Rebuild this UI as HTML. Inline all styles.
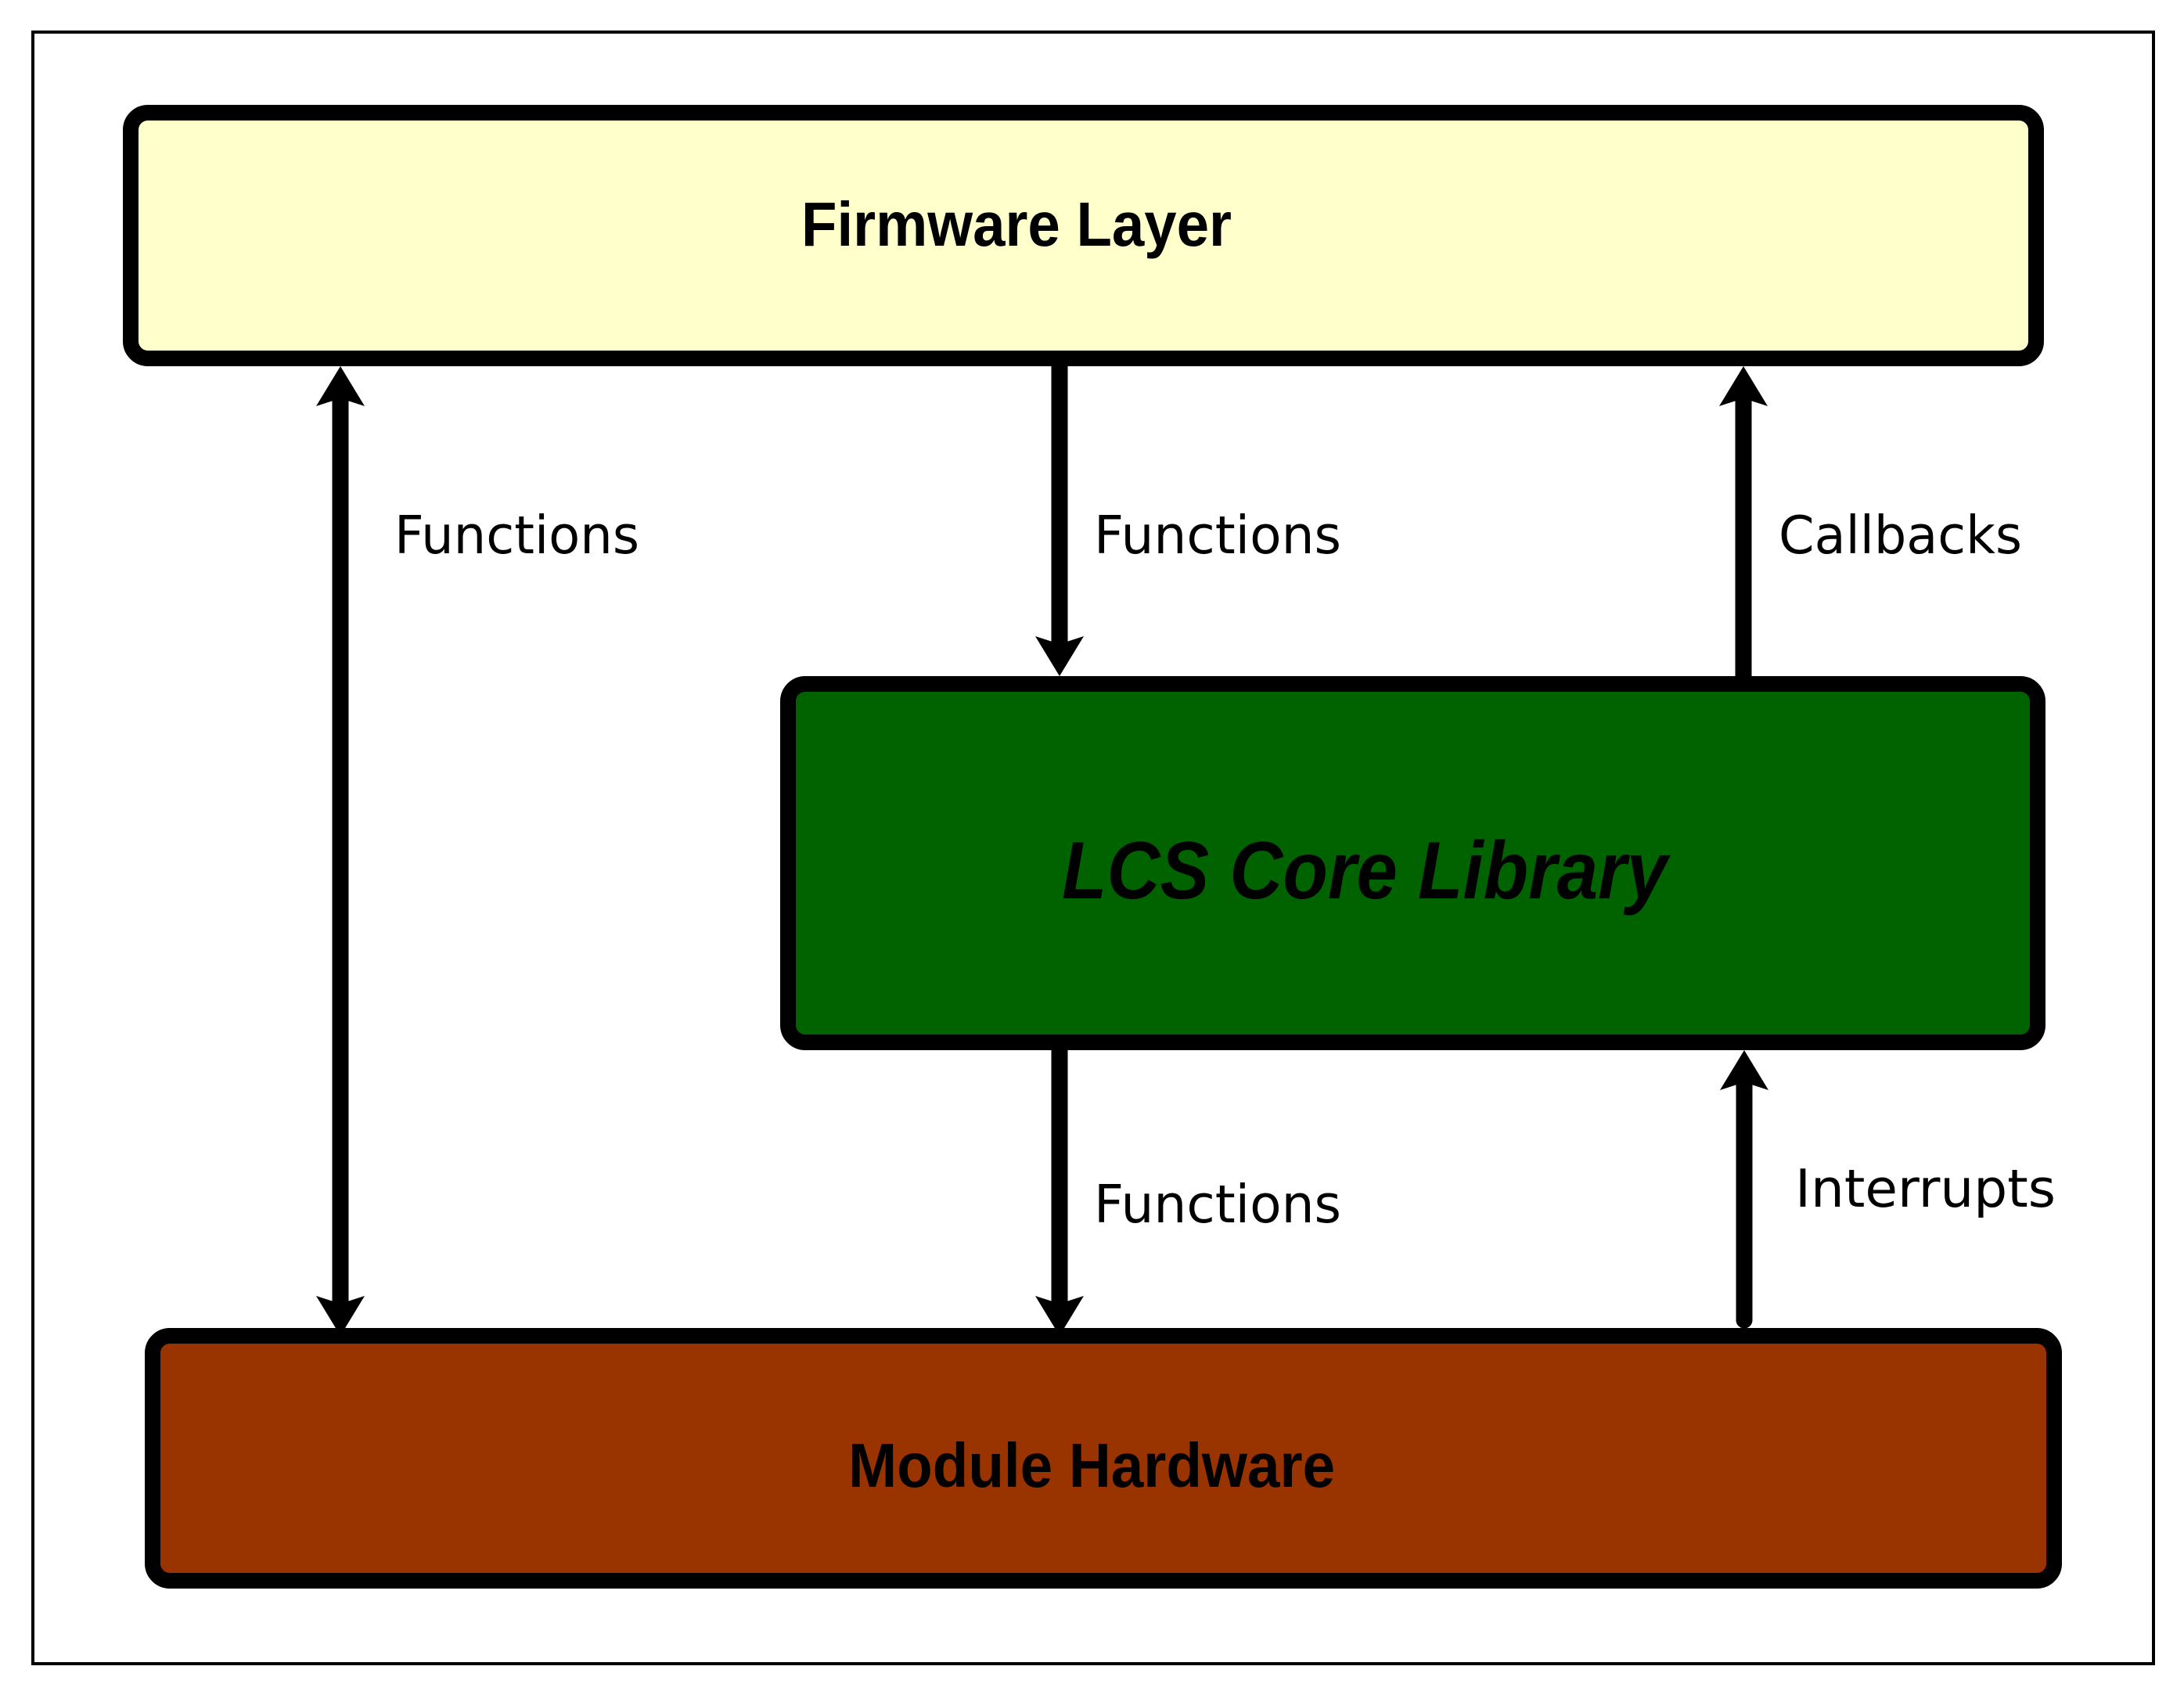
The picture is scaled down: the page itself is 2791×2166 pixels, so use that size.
<!DOCTYPE html>
<html><head><meta charset="utf-8"><style>
html,body{margin:0;padding:0;background:#fff;}
svg{display:block;}
</style></head><body>
<svg width="2791" height="2166" viewBox="0 0 2791 2166" xmlns="http://www.w3.org/2000/svg">
<rect x="0" y="0" width="2791" height="2166" fill="#fff"/>
<rect x="42" y="41" width="2710" height="2085" fill="none" stroke="#000" stroke-width="4"/>

<rect x="167" y="144" width="2435" height="314" rx="22" fill="#ffffcc" stroke="#000" stroke-width="20"/>
<rect x="1007" y="874" width="1597" height="458" rx="22" fill="#006300" stroke="#000" stroke-width="20"/>
<rect x="195" y="1707" width="2430" height="313" rx="22" fill="#993300" stroke="#000" stroke-width="20"/>

<g font-family="'Liberation Sans', sans-serif" font-weight="bold" fill="#000">
<text x="1024" y="314" font-size="80" textLength="550" lengthAdjust="spacingAndGlyphs">Firmware Layer</text>
<text x="1357" y="1148" font-size="104" font-style="italic" textLength="774" lengthAdjust="spacingAndGlyphs">LCS Core Library</text>
<text x="1084" y="1900" font-size="80" textLength="622" lengthAdjust="spacingAndGlyphs">Module Hardware</text>
</g>

<g stroke="#000" stroke-width="21">
<line x1="435" y1="505" x2="435" y2="1670"/>
<line x1="1354" y1="468" x2="1354" y2="826"/>
<line x1="2228" y1="505" x2="2228" y2="864"/>
<line x1="1354" y1="1342" x2="1354" y2="1670"/>
</g>
<line x1="2229" y1="1380" x2="2229" y2="1687" stroke="#000" stroke-width="21" stroke-linecap="round"/>
<g fill="#000">
<polygon points="435,468 404,519 435,509 466,519"/>
<polygon points="435,1707 404,1656 435,1666 466,1656"/>
<polygon points="1354,864 1323,813 1354,823 1385,813"/>
<polygon points="1354,1707 1323,1656 1354,1666 1385,1656"/>
<polygon points="2228,468 2197,519 2228,509 2259,519"/>
<polygon points="2229,1342 2198,1393 2229,1383 2260,1393"/>
</g>

<g font-family="'DejaVu Sans', sans-serif" font-size="67" fill="#000">
<text x="504" y="707" textLength="313" lengthAdjust="spacingAndGlyphs">Functions</text>
<text x="1398" y="707" textLength="316" lengthAdjust="spacingAndGlyphs">Functions</text>
<text x="2273" y="707" textLength="311" lengthAdjust="spacingAndGlyphs">Callbacks</text>
<text x="1398" y="1562" textLength="316" lengthAdjust="spacingAndGlyphs">Functions</text>
<text x="2294" y="1542" textLength="333" lengthAdjust="spacingAndGlyphs">Interrupts</text>
</g>
</svg>
</body></html>
